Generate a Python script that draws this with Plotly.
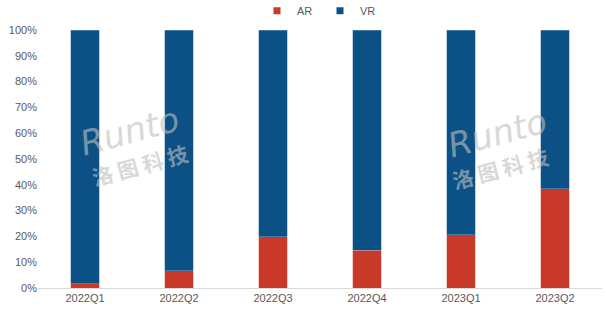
import plotly.graph_objects as go

quarters = ["2022Q1", "2022Q2", "2022Q3", "2022Q4", "2023Q1", "2023Q2"]
ar_share = [1.6, 6.6, 19.8, 14.7, 20.6, 38.4]
vr_share = [100 - v for v in ar_share]
y_ticks = [0, 10, 20, 30, 40, 50, 60, 70, 80, 90, 100]
y_tick_labels = [f"{v}%" for v in y_ticks]

red = "#C8392A"
blue = "#0B5185"

fig = go.Figure()
fig.add_trace(go.Bar(x=quarters, y=ar_share, name="AR", showlegend=False,
                     marker=dict(color=red, line=dict(color="#E8A090", width=0.5)), width=0.3))
fig.add_trace(go.Bar(x=quarters, y=vr_share, name="VR", showlegend=False,
                     marker=dict(color=blue, line=dict(color="#7FA6C8", width=0.5)), width=0.3))
# legend entries with small square swatches
for nm, col in [("AR", red), ("VR", blue)]:
    fig.add_trace(go.Scatter(x=[None], y=[None], mode="markers", name=nm,
                             marker=dict(symbol="square", size=7, color=col)))

fig.update_layout(
    width=606, height=311,
    barmode="stack",
    margin=dict(l=38, r=4, t=30, b=23, autoexpand=False),
    plot_bgcolor="white", paper_bgcolor="white",
    font=dict(family="Liberation Sans, Arial", size=11, color="#595959"),
    legend=dict(orientation="h", x=0.5, xanchor="center", y=1.075, yanchor="middle",
                font=dict(size=11, color="#595959"), traceorder="normal",
                itemwidth=30, tracegroupgap=0, entrywidth=18),
    xaxis=dict(showline=True, linecolor="#D9D9D9", linewidth=1, ticks="", showgrid=False,
               tickfont=dict(size=11, color="#595959")),
    yaxis=dict(range=[0, 100], tickvals=y_ticks, ticktext=y_tick_labels, showgrid=False,
               zeroline=False, showline=False, ticks="", tickfont=dict(size=11, color="#595959")),
)

for xr, yr, xc, yc in [(0.163, 0.61, 0.18, 0.475), (0.815, 0.60, 0.82, 0.465)]:
    fig.add_annotation(xref="paper", yref="paper", x=xr, y=yr, text="<i>Runto</i>",
                       xanchor="center", yanchor="middle",
                       showarrow=False, textangle=-15, opacity=0.6,
                       font=dict(size=34, color="#BFBFBF", family="DejaVu Sans"))
    fig.add_annotation(xref="paper", yref="paper", x=xc, y=yc, text="<b>洛 图 科 技</b>",
                       xanchor="center", yanchor="middle",
                       showarrow=False, textangle=-15, opacity=0.6,
                       font=dict(size=21, color="#BFBFBF", family="Noto Sans CJK SC"))

fig.write_html("out.html")
